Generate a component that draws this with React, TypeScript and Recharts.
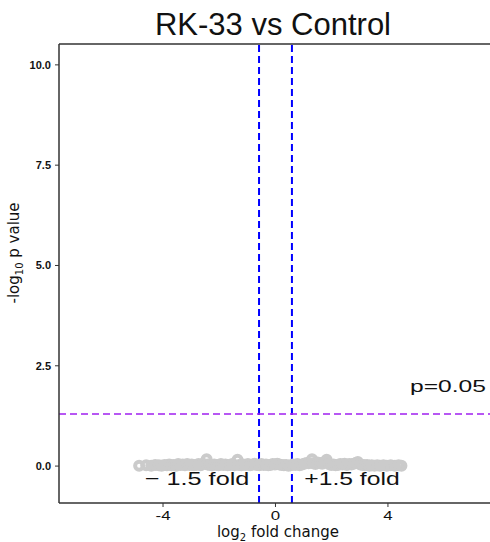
import React from "react";
import { ScatterChart, Scatter, XAxis, YAxis, ReferenceLine } from "recharts";

// log2 fold change / -log10 p for each gene
const foldX = [
  -4.85, -4.6, -4.42, -4.28, -4.15, -4.05, -3.95, -3.86, -3.78, -3.7, -3.62, -3.54, -3.46, -3.38, -3.3,
  -3.22, -3.14, -3.06, -2.98, -2.9, -2.82, -2.74, -2.66, -2.58, -2.45, -2.42, -2.34, -2.26, -2.18, -2.1,
  -2.02, -1.94, -1.86, -1.78, -1.7, -1.62, -1.54, -1.46, -1.35, -1.3, -1.22, -1.14, -1.06, -0.98, -0.9,
  -0.82, -0.74, -0.66, -0.58, -0.5, -0.42, -0.34, -0.26, -0.18, -0.1, -0.02, 0.06, 0.14, 0.22, 0.3,
  0.38, 0.46, 0.54, 0.62, 0.7, 0.78, 0.86, 0.94, 1.02, 1.1, 1.18, 1.3, 1.34, 1.42, 1.5,
  1.58, 1.66, 1.74, 1.82, 1.9, 1.98, 2.06, 2.14, 2.22, 2.3, 2.38, 2.46, 2.54, 2.62, 2.7,
  2.78, 2.86, 2.93, 3.02, 3.1, 3.18, 3.26, 3.34, 3.42, 3.52, 3.62, 3.72, 3.84, 3.96, 4.1,
  4.25, 4.38, 4.48,
];
const pVals = [
  0.01, 0.02, 0.01, 0.03, 0.02, 0.01, 0.03, 0.02, 0.04, 0.02, 0.03, 0.01, 0.05, 0.03, 0.04,
  0.02, 0.05, 0.03, 0.04, 0.02, 0.03, 0.05, 0.02, 0.06, 0.17, 0.04, 0.03, 0.02, 0.04, 0.03,
  0.02, 0.05, 0.03, 0.04, 0.02, 0.03, 0.05, 0.02, 0.16, 0.03, 0.02, 0.04, 0.03, 0.05, 0.02,
  0.04, 0.06, 0.03, 0.02, 0.05, 0.03, 0.04, 0.02, 0.03, 0.05, 0.04, 0.06, 0.04, 0.03, 0.02,
  0.03, 0.01, 0.02, 0.04, 0.03, 0.05, 0.02, 0.04, 0.06, 0.08, 0.07, 0.17, 0.07, 0.05, 0.09,
  0.08, 0.06, 0.1, 0.16, 0.05, 0.03, 0.04, 0.02, 0.03, 0.05, 0.04, 0.06, 0.03, 0.05, 0.04,
  0.06, 0.08, 0.1, 0.04, 0.03, 0.02, 0.03, 0.01, 0.02, 0.01, 0.02, 0.01, 0.02, 0.01, 0.02,
  0.01, 0.02, 0.01,
];
const xTicks = [-4, 0, 4];
const yTicks = [0, 2.5, 5, 7.5, 10];
const foldCut = 0.585; // log2(1.5)
const pCut = 1.3; // -log10(0.05)

const points = foldX.map((x, i) => ({ x, y: pVals[i] }));

const SANS = "Liberation Sans, Arial, sans-serif";
const DEJAVU = "DejaVu Sans, sans-serif";

function Stretch({ x, y, sx, size, children, anchor = "middle" }: any) {
  return (
    <text transform={`translate(${x},${y}) scale(${sx},1)`} textAnchor={anchor} fontSize={size} fontFamily={SANS} fill="#111">
      {children}
    </text>
  );
}

export default function App() {
  return (
    <div style={{ position: "absolute", left: 0, top: 0, width: 490, height: 542, background: "#fff" }}>
      <div
        style={{
          position: "absolute",
          top: 9,
          left: 100,
          width: 346,
          textAlign: "center",
          fontFamily: SANS,
          fontSize: 31,
          lineHeight: "31px",
          color: "#111",
          whiteSpace: "nowrap",
        }}
      >
        RK-33 vs Control
      </div>
      {/* panel is cut at the right edge of the image, so the x range stops short of +7.7 */}
      <ScatterChart width={490} height={542} margin={{ top: 44, right: 0, bottom: 0, left: 0 }}>
        <ReferenceLine y={10.52} stroke="#333" strokeWidth={1.5} />
        <XAxis
          type="number"
          dataKey="x"
          domain={[-7.7, 7.63]}
          ticks={xTicks}
          height={39}
          axisLine={{ stroke: "#333", strokeWidth: 1.5 }}
          tickLine={{ stroke: "#333" }}
          tickSize={4}
          tick={(p: any) => (
            <Stretch x={p.x} y={p.y + 11} sx={1.35} size={12.5}>
              {p.payload.value}
            </Stretch>
          )}
          label={() => (
            <text x={278} y={537} textAnchor="middle" fontFamily={DEJAVU} fontSize={15} fill="#111">
              log
              <tspan dy={4} fontSize={10}>2</tspan>
              <tspan dy={-4}> fold change</tspan>
            </text>
          )}
        />
        <YAxis
          type="number"
          dataKey="y"
          domain={[-0.92, 10.52]}
          ticks={yTicks}
          width={59}
          axisLine={{ stroke: "#333", strokeWidth: 1.5 }}
          tickLine={{ stroke: "#333" }}
          tickSize={4}
          tickMargin={4}
          tick={(p: any) => (
            <text x={p.x} y={p.y} dy="0.35em" textAnchor="end" fontSize={11} fontWeight="bold" fontFamily={SANS} fill="#111">
              {Number(p.payload.value).toFixed(1)}
            </text>
          )}
          label={() => (
            <text transform="translate(19,253) rotate(-90)" textAnchor="middle" fontFamily={DEJAVU} fontSize={15} fill="#111">
              -log
              <tspan dy={4} fontSize={10}>10</tspan>
              <tspan dy={-4}> p value</tspan>
            </text>
          )}
        />
        <Scatter
          data={points}
          isAnimationActive={false}
          shape={(p: any) => <circle cx={p.cx} cy={p.cy} r={4} fill="none" stroke="#CBCBCB" strokeWidth={4} />}
        />
        <ReferenceLine
          x={-foldCut}
          stroke="#0000FF"
          strokeWidth={2}
          strokeDasharray="7 4"
          label={(p: any) => (
            <Stretch x={p.viewBox.x - 62} y={p.viewBox.y + p.viewBox.height - 18} sx={1.33} size={19}>
              − 1.5 fold
            </Stretch>
          )}
        />
        <ReferenceLine
          x={foldCut}
          stroke="#0000FF"
          strokeWidth={2}
          strokeDasharray="7 4"
          label={(p: any) => (
            <Stretch x={p.viewBox.x + 60} y={p.viewBox.y + p.viewBox.height - 18} sx={1.3} size={19}>
              +1.5 fold
            </Stretch>
          )}
        />
        <ReferenceLine
          y={pCut}
          stroke="#A020F0"
          strokeWidth={1.5}
          strokeDasharray="7 4"
          label={(p: any) => (
            <Stretch x={448} y={p.viewBox.y - 22} sx={1.45} size={17}>
              p=0.05
            </Stretch>
          )}
        />
      </ScatterChart>
    </div>
  );
}
